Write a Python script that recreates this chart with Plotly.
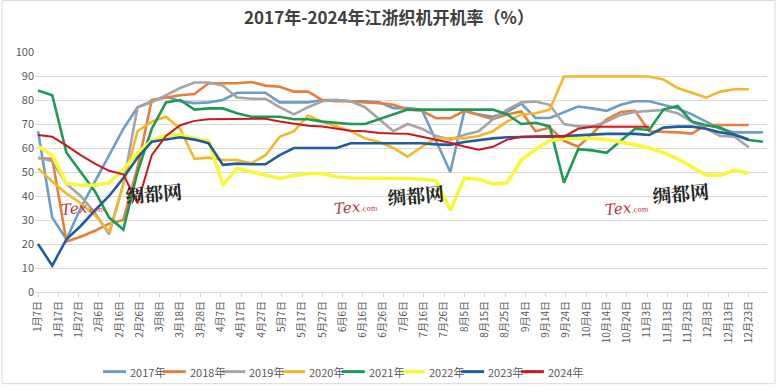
import datetime
import plotly.graph_objects as go

# ---- data ----
week_days = [7 + 7 * k for k in range(52)]  # day-of-year of weekly observations

tick_labels = ["1月7日", "1月17日", "1月27日", "2月6日", "2月16日", "2月26日", "3月8日", "3月18日",
               "3月28日", "4月7日", "4月17日", "4月27日", "5月7日", "5月17日", "5月27日", "6月6日",
               "6月16日", "6月26日", "7月6日", "7月16日", "7月26日", "8月5日", "8月15日", "8月25日",
               "9月4日", "9月14日", "9月24日", "10月4日", "10月14日", "10月24日", "11月3日", "11月13日",
               "11月23日", "12月3日", "12月13日", "12月23日"]

y2017 = [67, 31, 22, 35, 46, 57, 68, 77, 79.5, 81.5, 79.5, 78.7, 79, 80, 83, 83, 83, 79, 79, 79,
         80, 80, 79.5, 79.5, 79, 76.6, 76.6, 76, 63, 50, 75.5, 74, 73, 75, 78.5, 72.5, 72.5, 75, 77.3, 76.5,
         75.5, 78, 79.5, 79.5, 78, 76.5, 74, 71, 68, 66.5, 66.5, 66.5]
y2018 = [55.7, 55.5, 21, 23, 25.5, 28.5, 30, 52, 80, 81, 82, 82.5, 87, 87, 87, 87.5, 86, 85.5, 83.5, 83.5,
         80, 79.5, 79.5, 79, 78.7, 78, 76, 75.5, 72.4, 72.4, 75.5, 73.8, 72, 74, 75.2, 67, 68.5, 63, 60.5, 66,
         72, 75, 75.5, 67, 66.8, 66.5, 66, 69.6, 69.6, 69.6, 69.6, None]
y2019 = [56, 54.5, 45, 40, 33, 24, 45, 77, 79, 82, 85, 87.3, 87.3, 86, 81, 80.5, 80.5, 77, 74, 77,
         79.5, 80, 79.5, 77, 72, 67, 70, 68, 65, 63.5, 65.5, 67, 72, 76, 79, 79.4, 78, 70, 69, 69,
         71, 73.8, 75, 75.5, 75.9, 74.5, 71, 68, 65, 64.7, 60.3, None]
y2020 = [51.5, 46, 41, 37, 32, 25, 45, 67, 71, 73, 68, 55.5, 56, 55, 55, 53.6, 57, 64.7, 67, 73.5,
         71, 69, 67, 64, 62.5, 60, 56.4, 60.5, 64, 64, 64, 65, 67, 71, 74, 74.5, 76, 89.8, 89.8, 89.8,
         89.8, 89.8, 89.8, 89.8, 88.5, 85, 83, 81, 83.5, 84.5, 84.5, None]
y2021 = [84, 82, 58, 50, 42, 31, 26, 50, 68, 79, 80, 76, 76.5, 76.5, 74.5, 73, 73, 73, 72, 72,
         71, 70.5, 70, 70, 72, 74, 76, 76, 76, 76, 76, 76, 76, 74, 70, 70.5, 69, 45.5, 59.5, 59,
         58, 63, 68, 67.5, 76, 77.5, 71, 69.5, 68.5, 65.5, 63.3, 62.6]
y2022 = [60.6, 57, 45.3, 44.5, 44.5, 45.5, 51, 58, 63, 65.4, 65.5, 64, 63, 44.5, 51.5, 50, 48.5, 47.3, 48.5, 49.4,
         49.4, 48, 47.5, 47.5, 47.5, 47.5, 47.3, 47, 46.5, 34, 47.5, 47, 45, 45.5, 55, 59.5, 63, 64, 64, 64,
         63.5, 62.5, 61.3, 60, 58, 55.5, 52, 48.7, 48.7, 50.8, 49.4, None]
y2023 = [20, 11, 22, 27.5, 34, 40, 47.5, 56, 62.6, 63.6, 64.5, 63.5, 62, 53, 53.5, 53.2, 53.2, 57, 60, 60,
         60, 60, 62, 62, 62, 62, 62, 62, 61.5, 61.3, 62.5, 63.3, 64, 64.5, 64.7, 64.7, 64.7, 65, 65.5, 65.9,
         65.9, 65.9, 65.9, 65.4, 68.5, 68.9, 68.9, 68, 66.5, 65.5, 63.5, None]
y2024 = [65.4, 64.7, 61, 57, 53.5, 50.5, 49, 37, 57, 65, 69.5, 71.3, 72, 72, 72, 72.2, 72.2, 71, 70.3, 69.3,
         69, 68, 67.2, 67, 66.3, 66, 65.9, 64.7, 63.5, 62.2, 60.6, 59.3, 60.5, 63.5, 64.7, 65, 65, 64.7, 68, 68.9,
         68.9, 68.9, 68.9, 68.9, None, None, None, None, None, None, None, None]

series_names = ["2017年", "2018年", "2019年", "2020年", "2021年", "2022年", "2023年", "2024年"]
series_values = [y2017, y2018, y2019, y2020, y2021, y2022, y2023, y2024]
colors = ["#6f9bc9", "#e3803d", "#a5a5a5", "#f2b82c", "#1f9a55", "#f8f83a", "#215d9a", "#c8191f"]
widths = [2.6, 2.6, 2.6, 2.6, 2.6, 3.6, 2.6, 2.0]

# plot-area geometry in pixels (for placing legend/watermarks in paper coordinates)
PL, PR, PT, PB = 35, 767, 52.3, 291.6


def px_x(p):
    return (p - PL) / (PR - PL)


def px_y(p):
    return (PB - p) / (PB - PT)


def label_to_day(lbl):
    m, d = lbl.replace("日", "").split("月")
    return datetime.date(2001, int(m), int(d)).timetuple().tm_yday


tick_vals = [label_to_day(t) for t in tick_labels]

fig = go.Figure()
for name, vals, c, w in zip(series_names, series_values, colors, widths):
    fig.add_trace(go.Scatter(x=week_days, y=vals, mode="lines", name=name,
                             line=dict(color=c, width=w), connectgaps=False, showlegend=False))

# legend drawn as short line samples + labels (compact, like the original)
leg_y = px_y(371)
for i, (name, c) in enumerate(zip(series_names, colors)):
    x0 = 103 + 59.7 * i
    fig.add_shape(type="line", xref="paper", yref="paper",
                  x0=px_x(x0), x1=px_x(x0 + 23), y0=leg_y, y1=leg_y,
                  line=dict(color=c, width=3.5 if i == 5 else 3))
    fig.add_annotation(x=px_x(x0 + 25), y=leg_y, xref="paper", yref="paper", text=name,
                       showarrow=False, xanchor="left", yanchor="middle",
                       font=dict(size=11, color="#595959"))

# watermark text
for (wx, wy) in [(122, 192), (415, 194), (712, 192)]:
    fig.add_annotation(x=px_x(wx), y=px_y(wy), xref="paper", yref="paper",
                       text="<b>绸都网</b>", showarrow=False, textangle=-5,
                       font=dict(family="Noto Serif CJK SC, Noto Sans CJK SC", size=19, color="#262626"))
for (wx, wy) in [(58, 208), (356, 207), (652, 208)]:
    fig.add_annotation(x=px_x(wx), y=px_y(wy), xref="paper", yref="paper",
                       text="<i>Tex</i><span style='font-size:7px'>.com</span>", showarrow=False,
                       textangle=-5, font=dict(family="DejaVu Serif", size=15, color="#b5323a"))

fig.add_shape(type="rect", xref="paper", yref="paper",
              x0=px_x(2), x1=px_x(775), y0=px_y(383), y1=px_y(1),
              line=dict(color="#d9d9d9", width=1), fillcolor="rgba(0,0,0,0)", layer="below")

fig.update_layout(
    template="none",
    width=778, height=391,
    margin=dict(l=PL, r=778 - PR, t=PT, b=391 - PB, autoexpand=False),
    paper_bgcolor="white", plot_bgcolor="white",
    font=dict(family="Noto Sans CJK SC, Liberation Sans, sans-serif", color="#595959"),
    title=dict(text="<b>2017年-2024年江浙织机开机率（%）</b>", x=0.5, xanchor="center",
               y=0.953, yanchor="middle", font=dict(size=17, color="#404040")),
    showlegend=False,
    xaxis=dict(range=[5.5, 366], tickmode="array", tickvals=tick_vals, ticktext=tick_labels,
               tickangle=-90, tickfont=dict(size=10, color="#595959"), automargin=False,
               showgrid=False, zeroline=False, showline=True, linecolor="#d9d9d9", linewidth=1,
               ticks="outside", ticklen=4, tickcolor="#d9d9d9"),
    yaxis=dict(range=[0, 100], tickmode="linear", tick0=0, dtick=10, automargin=False,
               tickfont=dict(size=11, color="#595959"),
               showgrid=True, gridcolor="#d9d9d9", gridwidth=1, zeroline=False,
               showline=False, ticks=""),
)

fig.write_html("out.html", config={"displayModeBar": False},
               post_script="document.body.style.margin='0';")
